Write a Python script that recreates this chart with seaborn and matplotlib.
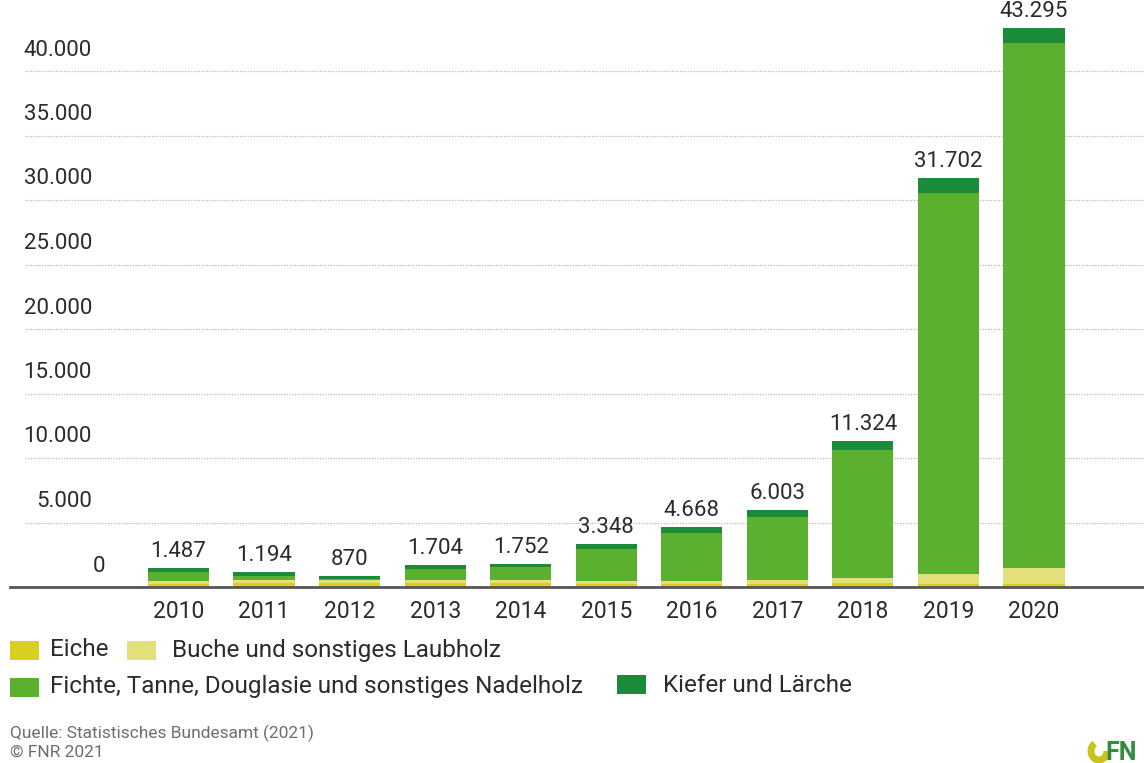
import matplotlib
matplotlib.use("Agg")
import matplotlib.pyplot as plt
from matplotlib.patches import Rectangle, Arc
import seaborn as sns
import pandas as pd

# ---------------- data (1000 m³) ----------------
years = ["2010", "2011", "2012", "2013", "2014", "2015", "2016", "2017", "2018", "2019", "2020"]
totals = [1487, 1194, 870, 1704, 1752, 3348, 4668, 6003, 11324, 31702, 43295]
eiche = [250, 300, 280, 280, 300, 250, 250, 250, 300, 200, 200]
buche = [250, 260, 250, 250, 230, 200, 200, 300, 400, 800, 1300]
fichte = [637, 324, 100, 884, 1012, 2498, 3718, 4853, 9924, 29552, 40695]
kiefer = [350, 310, 240, 290, 210, 400, 500, 600, 700, 1150, 1100]
series_names = ["Eiche", "Buche und sonstiges Laubholz",
                "Fichte, Tanne, Douglasie und sonstiges Nadelholz", "Kiefer und Lärche"]
y_ticks = [0, 5000, 10000, 15000, 20000, 25000, 30000, 35000, 40000]
y_tick_labels = ["0", "5.000", "10.000", "15.000", "20.000", "25.000", "30.000", "35.000", "40.000"]
value_labels = ["1.487", "1.194", "870", "1.704", "1.752", "3.348", "4.668", "6.003", "11.324", "31.702", "43.295"]
source_lines = ["Quelle: Statistisches Bundesamt (2021)", "© FNR 2021"]

colors = ["#d7d01e", "#e3e07c", "#5cb02f", "#1b8b39"]

# ---------------- figure setup ----------------
sns.set_theme(style="white")
FONT = ["Roboto", "DejaVu Sans"]
plt.rcParams["font.family"] = FONT

W, H = 1144, 763
fig = plt.figure(figsize=(W / 100, H / 100), dpi=100)

x0_px, step_px = 178.5, 85.55     # centre of first bar, spacing
base_px = 587                     # y pixel of zero line
k = 0.0129                        # px per unit

ax_left_px = 10
xl = (ax_left_px - x0_px) / step_px
xr = (W - x0_px) / step_px
ytop = base_px / k

ax = fig.add_axes([ax_left_px / W, (H - base_px) / H, (W - ax_left_px) / W, base_px / H])
ax.set_facecolor("white")

df = pd.DataFrame({"Jahr": years, "Eiche": eiche, "Buche": buche,
                   "Fichte": fichte, "Kiefer": kiefer})
layers = [
    df["Eiche"] + df["Buche"] + df["Fichte"] + df["Kiefer"],
    df["Eiche"] + df["Buche"] + df["Fichte"],
    df["Eiche"] + df["Buche"],
    df["Eiche"],
]
layer_cols = [colors[3], colors[2], colors[1], colors[0]]

# grid lines (dotted)
gx0 = (25 - x0_px) / step_px
for v in y_ticks[1:]:
    ax.hlines(v, gx0, xr, colors="#b8b8b8", linestyles=(0, (1, 1.2)), linewidth=0.9, zorder=0)

for vals, c in zip(layers, layer_cols):
    sns.barplot(x=df["Jahr"], y=vals, color=c, width=0.715, saturation=1,
                order=years, ax=ax, zorder=2, linewidth=0, edgecolor=c)

ax.set_xlim(xl, xr)
ax.set_ylim(0, ytop)
ax.set_xlabel("")
ax.set_ylabel("")
ax.set_yticks([])
for s in ["top", "right", "left"]:
    ax.spines[s].set_visible(False)
ax.spines["bottom"].set_color("#555555")
ax.spines["bottom"].set_linewidth(2)
ax.spines["bottom"].set_zorder(5)

ax.tick_params(axis="x", length=0, pad=9, labelsize=16.5, labelcolor="#2b2b2b")

# y labels above the grid lines
lab_off = 21 / k
xr_lab = (92 - x0_px) / step_px
for v, t in zip(y_ticks, y_tick_labels):
    if v == 0:
        ax.text(xr_lab + 1 / step_px, v + lab_off, t, ha="left", va="center", fontsize=16, color="#2b2b2b")
    else:
        ax.text(xr_lab, v + lab_off, t, ha="right", va="center", fontsize=16, color="#2b2b2b")

# value labels
for i, (v, t) in enumerate(zip(totals, value_labels)):
    ax.text(i, v + 6 / k, t, ha="center", va="bottom", fontsize=16, color="#2b2b2b")

# ---------------- legend (manual) ----------------
def fx(px):
    return px / W

def fy(py):
    return 1 - py / H

legend_items = [
    (10, 641, 50, 650, 0),
    (127, 641, 172, 650, 1),
    (10, 678, 50, 687, 2),
    (617, 675, 663, 685, 3),
]
for px, py, tx, ty, idx in legend_items:
    fig.add_artist(Rectangle((fx(px), fy(py + 19)), 29 / W, 19 / H,
                             transform=fig.transFigure, facecolor=colors[idx], edgecolor="none"))
    fig.text(fx(tx), fy(ty), series_names[idx], ha="left", va="center",
             fontsize=17.5, color="#2b2b2b")

fig.text(fx(10), fy(733), source_lines[0], ha="left", va="center", fontsize=12.5, color="#6e6e6e")
fig.text(fx(10), fy(752), source_lines[1], ha="left", va="center", fontsize=12.5, color="#6e6e6e")

# FNR logo fragment
lax = fig.add_axes([1085 / W, 0, 59 / W, 32 / H])
lax.set_xlim(0, 59)
lax.set_ylim(0, 32)
lax.axis("off")
lax.add_patch(Arc((14, 12), 16, 18, theta1=120, theta2=360, lw=5, color="#c9c41a"))
lax.text(20, 10, "FN", fontsize=18, fontweight="bold", color="#2f8f3a",
         va="center", ha="left")

fig.savefig("out.png", dpi=100, facecolor="white")
